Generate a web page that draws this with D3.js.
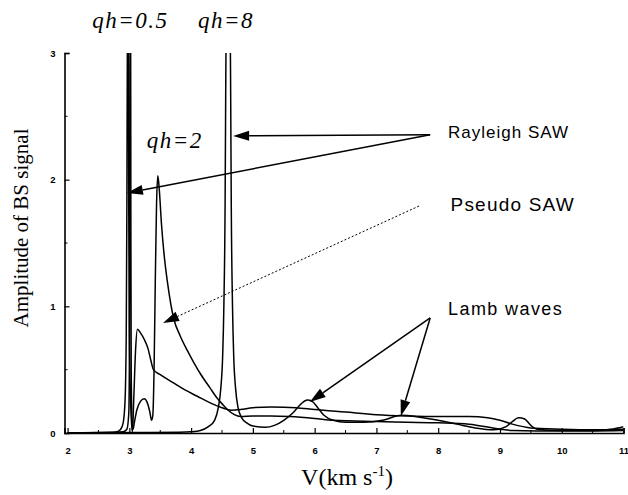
<!DOCTYPE html>
<html><head><meta charset="utf-8">
<script src="https://cdn.jsdelivr.net/npm/d3@7"></script>
<style>body{margin:0;background:#fff}svg{display:block}</style>
</head><body><svg id="c" width="628" height="495"></svg>
<script>
// ---- data ----
const xTicks = [2,3,4,5,6,7,8,9,10,11];
const yTicks = [0,1,2,3];
const seriesNames = ["qh=0.5","qh=2","qh=8"];

const qh05V = [2.0,2.5,2.7,2.8,2.86,2.9,2.93,2.95,2.96,2.97,2.98,2.99,3.0,3.02,3.04,3.05,3.07,3.1,3.13,3.18,3.24,3.3,3.35,3.39,3.5,3.7,3.9,4.1,4.3,4.5,4.65,4.8,5.0,5.3,5.7,6.0,6.5,7.0,7.5,8.0,8.5,8.8,9.0,9.2,9.5,10.0,10.5,11.0];
const qh05A = [0,0.003,0.005,0.01,0.03,0.08,0.25,0.8,1.8,3.4,3.6,1.8,0.8,0.25,0.05,0.01,0.25,0.65,0.82,0.79,0.74,0.67,0.57,0.5,0.46,0.4,0.34,0.29,0.24,0.2,0.18,0.185,0.2,0.205,0.2,0.185,0.165,0.145,0.135,0.13,0.13,0.12,0.1,0.07,0.04,0.03,0.025,0.03];

const qh2V = [2.0,2.6,2.9,2.96,2.99,3.0,3.005,3.01,3.02,3.025,3.03,3.04,3.05,3.06,3.08,3.12,3.18,3.24,3.29,3.33,3.36,3.38,3.4,3.42,3.44,3.46,3.48,3.52,3.56,3.62,3.72,3.82,3.94,4.05,4.16,4.3,4.43,4.52,4.6,4.7,4.8,5.0,5.3,5.6,6.0,6.3,7.0,7.5,8.0,8.5,9.0,9.2,10.0,11.0];
const qh2A = [0,0.003,0.01,0.03,0.15,0.5,1.5,3.4,3.4,1.5,0.5,0.15,0.04,0.03,0.08,0.18,0.25,0.27,0.24,0.17,0.1,0.14,0.5,1.2,1.8,2.03,1.95,1.65,1.42,1.18,0.9,0.77,0.65,0.55,0.46,0.36,0.27,0.22,0.18,0.145,0.13,0.135,0.135,0.13,0.115,0.1,0.09,0.085,0.08,0.07,0.03,0.02,0.015,0.02];

const qh8V = [2.0,3.0,3.8,4.0,4.15,4.28,4.38,4.44,4.48,4.51,4.53,4.55,4.56,4.57,4.6,4.63,4.64,4.65,4.67,4.69,4.72,4.76,4.82,4.9,5.0,5.2,5.35,5.5,5.65,5.78,5.88,5.96,6.05,6.15,6.3,6.5,6.8,7.1,7.4,7.7,8.0,8.3,8.6,8.9,9.1,9.2,9.3,9.4,9.5,9.6,10.0,10.5,10.8,11.0];
const qh8A = [0,0.003,0.006,0.01,0.02,0.05,0.1,0.2,0.35,0.6,1.0,1.8,2.7,3.4,4.0,3.4,2.7,1.8,1.0,0.6,0.35,0.2,0.12,0.08,0.055,0.045,0.06,0.1,0.16,0.23,0.26,0.25,0.2,0.14,0.1,0.085,0.085,0.1,0.14,0.125,0.1,0.07,0.04,0.025,0.05,0.09,0.12,0.11,0.06,0.03,0.02,0.02,0.03,0.05];

// annotation texts and anchor points (data units)
const labelTexts = ["qh=0.5","qh=8","qh=2","Rayleigh SAW","Pseudo SAW","Lamb waves"];
const labelPos = [[2.40,3.2],[4.11,3.2],[3.28,2.25],[8.16,2.33],[8.2,1.75],[8.16,0.93]];
const rayleighFrom = [7.87,2.355];
const rayleighTo = [[4.68,2.345],[2.96,1.895]];
const pseudoFrom = [7.69,1.792];
const pseudoTo = [3.545,0.868];
const lambFrom = [7.87,0.908];
const lambTo = [[5.92,0.245],[7.395,0.134]];

// ---- drawing ----
const svg = d3.select("#c");
const x = d3.scaleLinear().domain([1.95,11]).range([64.5,623.5]);
const y = d3.scaleLinear().domain([0,3]).range([433,53]);

svg.append("defs").append("clipPath").attr("id","clip")
  .append("rect").attr("x",x(1.95)).attr("y",y(3)).attr("width",x(11)-x(1.95)).attr("height",y(0)-y(3)+2);

// axes
const gx = svg.append("g").attr("transform",`translate(0,${y(0)})`)
  .call(d3.axisBottom(x).tickValues(xTicks).tickSize(-5).tickPadding(14).tickFormat(d3.format("d")));
const gy = svg.append("g").attr("transform",`translate(${x(1.95)},0)`)
  .call(d3.axisLeft(y).tickValues(yTicks).tickSize(-5).tickPadding(9).tickFormat(d3.format("d")));
[gx,gy].forEach(g=>{
  g.select(".domain").attr("stroke","#000").attr("stroke-width",1.6);
  g.selectAll(".tick line").attr("stroke","#000").attr("stroke-width",1.2);
  g.selectAll(".tick text").attr("font-family","Arial, 'Liberation Sans', sans-serif")
    .attr("font-weight","bold").attr("font-size",9.5).attr("fill","#000");
});
// minor ticks
const minorX = d3.range(2.5,11,1), minorY = [0.5,1.5,2.5];
svg.append("g").selectAll("line").data(minorX).join("line")
  .attr("x1",d=>x(d)).attr("x2",d=>x(d)).attr("y1",y(0)).attr("y2",y(0)-3)
  .attr("stroke","#000").attr("stroke-width",1);
svg.append("g").selectAll("line").data(minorY).join("line")
  .attr("y1",d=>y(d)).attr("y2",d=>y(d)).attr("x1",x(1.95)).attr("x2",x(1.95)+3)
  .attr("stroke","#000").attr("stroke-width",1);

// curves
const line = d3.line().x(d=>x(d[0])).y(d=>y(d[1])).curve(d3.curveMonotoneX);
const series = [[qh05V,qh05A],[qh2V,qh2A],[qh8V,qh8A]];
svg.append("g").attr("clip-path","url(#clip)").selectAll("path").data(series).join("path")
  .attr("d",s=>line(s[0].map((v,i)=>[v,s[1][i]])))
  .attr("fill","none").attr("stroke","#000").attr("stroke-width",1.5).attr("stroke-linejoin","round");

// arrows
const ann = svg.append("g");
function arrow(from,to,dashed){
  const x1=x(from[0]),y1=y(from[1]),x2=x(to[0]),y2=y(to[1]);
  const ang=Math.atan2(y2-y1,x2-x1), L=16, W=5;
  const bx=x2-L*Math.cos(ang), by=y2-L*Math.sin(ang);
  ann.append("line").attr("x1",x1).attr("y1",y1).attr("x2",bx).attr("y2",by)
    .attr("stroke","#000").attr("stroke-width",dashed?1:1.5)
    .attr("stroke-dasharray",dashed?"2,2":null);
  const px=-Math.sin(ang)*W, py=Math.cos(ang)*W;
  ann.append("path").attr("d",`M${x2},${y2}L${bx+px},${by+py}L${bx-px},${by-py}Z`).attr("fill","#000");
}
rayleighTo.forEach(t=>arrow(rayleighFrom,t,false));
arrow(pseudoFrom,pseudoTo,true);
lambTo.forEach(t=>arrow(lambFrom,t,false));

// labels
labelTexts.forEach((t,i)=>{
  const p = labelPos[i];
  const tx = ann.append("text").attr("x",x(p[0])).attr("y",y(p[1])).text(t).attr("fill","#000");
  if(i<3){
    tx.attr("font-family","'Liberation Serif','Times New Roman',serif").attr("font-style","italic")
      .attr("font-size",23).attr("letter-spacing",1.5);
  } else {
    const fs = [17,19,18][i-3], ls=[1,1.2,1.4][i-3];
    tx.attr("font-family","Arial,'Liberation Sans',sans-serif").attr("font-size",fs).attr("letter-spacing",ls);
  }
});

// axis titles
svg.append("text").attr("transform","translate(28,228) rotate(-90)").attr("text-anchor","middle")
  .attr("font-family","'Liberation Serif','Times New Roman',serif").attr("font-size",21).attr("fill","#000")
  .text("Amplitude of BS signal");
const xt = svg.append("text").attr("x",347).attr("y",485).attr("text-anchor","middle")
  .attr("font-family","'Liberation Serif','Times New Roman',serif").attr("font-size",24).attr("fill","#000");
xt.append("tspan").text("V(km s");
xt.append("tspan").attr("dy",-9).attr("font-size",15).text("-1");
xt.append("tspan").attr("dy",9).text(")");
</script></body></html>
